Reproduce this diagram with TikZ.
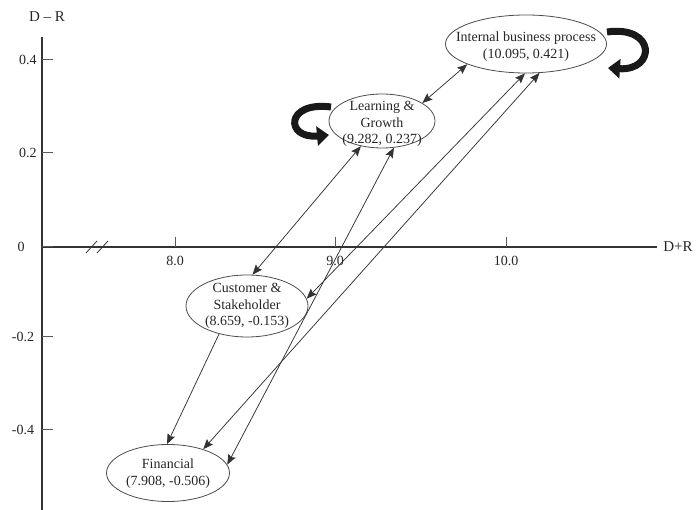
\documentclass[tikz,border=0pt]{standalone}
\usepackage{fontspec}
\setmainfont{Liberation Serif}
\usetikzlibrary{arrows.meta,shapes.geometric}
\begin{document}
\begin{tikzpicture}[x=1pt,y=-1pt,
  lbl/.style={font=\fontsize{14}{16.5}\selectfont, text=black!85, inner sep=0pt, align=center},
  axislbl/.style={font=\fontsize{15}{17}\selectfont, text=black!85, inner sep=0pt},
  sbox/.style={ellipse, draw=black!70, line width=0.8pt, inner sep=0pt},
  link/.style={draw=black!80, line width=0.75pt, {Stealth[length=10pt,width=8pt,inset=1.5pt]}-{Stealth[length=10pt,width=8pt,inset=1.5pt]}},
  oneway/.style={draw=black!80, line width=0.75pt, -{Stealth[length=10pt,width=8pt,inset=1.5pt]}},
  selfturn/.style={draw=black!90, line width=7pt, -{Triangle[length=12pt,width=19pt]}},
  axisline/.style={draw=black!80, line width=1.2pt},
  tickmark/.style={draw=black!65, line width=1pt}
]
\useasboundingbox (0,0) rectangle (699,510);

% axes
\draw[axisline] (42,37) -- (42,510);
\draw[axisline] (42,247) -- (657,247);
\node[axislbl] (ytitle) at (47,17) {D -- R};
\node[axislbl] (xtitle) at (678,247) {D+R};

% vertical ticks and labels
\foreach \yy/\tx/\cx in {60/0.4/28, 153/0.2/28, 247/0/21, 337/-0.2/23, 430/-0.4/23}{
  \draw[tickmark] (42,\yy) -- (53,\yy);
  \node[lbl] at (\cx,\yy) {\tx};
}
% horizontal ticks and labels
\foreach \xx/\tx in {175/8.0, 335/9.0, 506/10.0}{
  \draw[tickmark] (\xx,237) -- (\xx,247);
  \node[lbl] at (\xx,261) {\tx};
}
% axis break
\draw[black!80, line width=0.8pt] (86,253) -- (97,241);
\draw[black!80, line width=0.8pt] (97,253) -- (108,241);

% perspectives
\node[sbox, minimum width=161pt, minimum height=58pt] (ibp) at (526,44) {};
\node[lbl] at (526,46.5) {Internal business process\\(10.095, 0.421)};
\node[sbox, minimum width=106pt, minimum height=54pt] (lg) at (382,121) {};
\node[lbl] at (382,124) {Learning \&\\Growth\\(9.282, 0.237)};
\node[sbox, minimum width=122pt, minimum height=62pt] (cs) at (247,306) {};
\node[lbl] at (247,306) {Customer \&\\Stakeholder\\(8.659, -0.153)};
\node[sbox, minimum width=123pt, minimum height=57pt] (fin) at (168,473) {};
\node[lbl] at (168,473.5) {Financial\\(7.908, -0.506)};

% relations
\draw[link] (ibp.199) -- (lg.24);
\draw[link] (lg.230) -- (cs.80);
\draw[link] (lg.294) -- (fin.8);
\draw[link] (ibp.268) -- (cs.7);
\draw[link] (ibp.295) -- (fin.34);
\draw[oneway] (cs.225) -- (fin.92);

% self-reinforcing loops
\draw[selfturn] ([shift={(81,-12)}]ibp.center) .. controls (656,25) and (656,71) .. ([shift={(82,24)}]ibp.center);
\draw[selfturn] ([shift={(-51,-14)}]lg.center) .. controls (285,101) and (285,139) .. ([shift={(-53,14)}]lg.center);
\end{tikzpicture}
\end{document}
